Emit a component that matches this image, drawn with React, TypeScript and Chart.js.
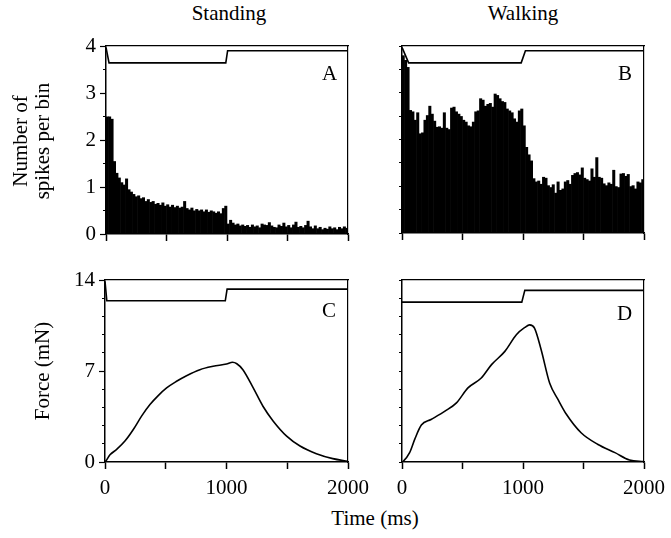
import React, { useEffect, useRef } from 'react';
import { Chart, registerables } from 'chart.js';

Chart.register(...registerables);

const FONT = '"Liberation Serif", "Times New Roman", Times, "DejaVu Serif", "Noto Serif", serif';
const FONT_SIZE = 21;

// ---------- data ----------
const BIN_MS = 20;

const spikesStanding = [
  2.5, 2.5, 2.45, 1.55, 1.3, 1.2, 1.1, 1.05, 1.18, 0.95,
  0.9, 0.85, 0.8, 0.82, 0.76, 0.78, 0.7, 0.74, 0.68, 0.7,
  0.64, 0.66, 0.62, 0.67, 0.6, 0.63, 0.58, 0.62, 0.57, 0.6,
  0.56, 0.58, 0.7, 0.55, 0.52, 0.56, 0.5, 0.53, 0.5, 0.52,
  0.48, 0.52, 0.47, 0.5, 0.48, 0.45, 0.48, 0.44, 0.55, 0.6,
  0.22, 0.3, 0.24, 0.2, 0.22, 0.18, 0.2, 0.17, 0.19, 0.15,
  0.2, 0.16, 0.18, 0.14, 0.22, 0.2, 0.19, 0.25, 0.18, 0.15,
  0.14, 0.2, 0.17, 0.24, 0.16, 0.19, 0.14, 0.2, 0.26, 0.15,
  0.17, 0.14, 0.19, 0.28, 0.16, 0.12, 0.18, 0.12, 0.15, 0.1,
  0.13, 0.11, 0.16, 0.12, 0.14, 0.1, 0.15, 0.12, 0.16, 0.13,
];

const spikesWalking = [
  3.8, 3.7, 3.55, 2.63, 2.6, 2.42, 2.58, 2.13, 2.15, 2.42,
  2.52, 2.72, 2.55, 2.4, 2.27, 2.28, 2.25, 2.58, 2.25, 2.22,
  2.68, 2.7, 2.6, 2.55, 2.5, 2.42, 2.38, 2.3, 2.28, 2.38,
  2.6, 2.62, 2.88, 2.85, 2.72, 2.76, 2.78, 2.7, 2.98, 2.95,
  2.88, 2.82, 2.8, 2.66, 2.62, 2.58, 2.45, 2.38, 2.62, 2.66,
  2.3, 1.84, 1.68, 1.55, 1.17, 1.1, 1.12, 1.05, 1.2, 1.18,
  1.02, 0.98, 1.04, 0.86, 1.1, 0.92, 0.95, 1.1, 1.13, 1.05,
  1.24, 1.28, 1.3, 1.25, 1.4, 1.18, 1.15, 1.12, 1.38, 1.2,
  1.62, 1.2, 1.18, 1.06, 1.02, 1.08, 1.05, 1.35, 1.0, 0.98,
  1.27, 1.28, 1.22, 1.26, 1.0, 1.02, 0.95, 1.1, 1.08, 1.15,
];

const forceTimeStanding = [0, 10, 41, 96, 164, 233, 301, 370, 438, 507, 589, 671, 781, 890, 1000, 1050, 1085, 1135, 1220, 1300, 1385, 1495, 1605, 1740, 1875, 2000];
const forceStanding = [0, 0.12, 0.55, 0.97, 1.61, 2.5, 3.53, 4.42, 5.11, 5.7, 6.21, 6.64, 7.1, 7.36, 7.54, 7.67, 7.56, 7.1, 5.7, 4.29, 3.14, 1.99, 1.23, 0.64, 0.26, 0.05];

const forceTimeWalking = [0, 10, 63, 105, 160, 240, 355, 450, 545, 655, 740, 850, 945, 1015, 1055, 1095, 1150, 1220, 1290, 1360, 1480, 1620, 1760, 1880, 2000];
const forceWalking = [0, 0.05, 0.72, 1.74, 2.84, 3.27, 3.91, 4.55, 5.7, 6.46, 7.49, 8.51, 9.79, 10.35, 10.55, 10.3, 8.64, 6.08, 4.8, 3.65, 2.25, 1.35, 0.72, 0.15, 0.03];

// stimulus (position) traces at the top of each panel
const stimTimeA = [0, 25, 990, 1005, 2000];
const stimA = [3.97, 3.64, 3.64, 3.9, 3.9];
const stimTimeB = [0, 55, 985, 1020, 2000];
const stimB = [3.97, 3.64, 3.64, 3.9, 3.9];
const stimTimeC = [0, 15, 990, 1005, 2000];
const stimC = [13.9, 12.4, 12.4, 13.3, 13.3];
const stimTimeD = [0, 990, 1015, 2000];
const stimD = [12.3, 12.3, 13.2, 13.2];

const xTicks = [0, 500, 1000, 1500, 2000];
const xTickLabels = [0, 1000, 2000];
const spikeTicks = [0, 0.5, 1, 1.5, 2, 2.5, 3, 3.5, 4];
const spikeTickLabels = [0, 1, 2, 3, 4];
const forceTicks = [0, 1.4, 2.8, 4.2, 5.6, 7, 8.4, 9.8, 11.2, 12.6, 14];
const forceTickLabels = [0, 7, 14];

// ---------- helpers ----------
const toXY = (xs: number[], ys: number[]) => xs.map((x, i) => ({ x, y: ys[i] }));
const binsToXY = (vals: number[]) => vals.map((v, i) => ({ x: i * BIN_MS + BIN_MS / 2, y: v }));
const has = (list: number[], v: number) => list.some((l) => Math.abs(l - v) < 1e-6);

type Box = { l: number; t: number; w: number; h: number };
type Area = { l: number; t: number; r: number; b: number };

function Panel(props: {
  box: Box;
  area: Area;
  yMax: number;
  yTicks: number[];
  yLabels: number[];
  showXLabels: boolean;
  datasets: any[];
}) {
  const ref = useRef<HTMLCanvasElement>(null);
  const { box, area, yMax, yTicks, yLabels, showXLabels, datasets } = props;

  useEffect(() => {
    if (!ref.current) return;
    const yW = area.l - box.l;
    const padT = area.t - box.t;
    const padR = box.l + box.w - area.r;
    const xH = box.t + box.h - area.b;
    const font = { family: FONT, size: FONT_SIZE };
    const border = { display: true, color: '#000', width: 1.5 };

    const chart = new Chart(ref.current, {
      type: 'bar',
      data: { datasets },
      options: {
        responsive: false,
        animation: false,
        devicePixelRatio: 1,
        layout: { padding: { left: 0, top: padT, right: padR, bottom: 0 } },
        plugins: { legend: { display: false }, tooltip: { enabled: false } },
        scales: {
          x: {
            type: 'linear',
            position: 'bottom',
            min: 0,
            max: 2000,
            offset: false,
            afterBuildTicks: (s: any) => {
              s.ticks = xTicks.map((v) => ({ value: v }));
            },
            afterFit: (s: any) => {
              s.height = xH;
              s.paddingLeft = 0;
              s.paddingRight = 0;
            },
            border,
            grid: {
              display: true,
              offset: false,
              drawOnChartArea: false,
              drawTicks: true,
              tickLength: 7,
              color: '#000',
              tickColor: '#000',
              tickWidth: 1.5,
            },
            ticks: {
              autoSkip: false,
              maxRotation: 0,
              minRotation: 0,
              padding: 7,
              color: '#000',
              font,
              callback: (v: any) => (showXLabels && has(xTickLabels, Number(v)) ? String(v) : ''),
            },
          },
          x2: {
            type: 'linear',
            position: 'top',
            min: 0,
            max: 2000,
            offset: false,
            border: { ...border, width: 1.2 },
            grid: { display: false, offset: false },
            ticks: { display: false },
            afterFit: (s: any) => {
              s.height = 0;
              s.paddingLeft = 0;
              s.paddingRight = 0;
            },
          },
          y: {
            type: 'linear',
            position: 'left',
            min: 0,
            max: yMax,
            afterBuildTicks: (s: any) => {
              s.ticks = yTicks.map((v) => ({ value: v }));
            },
            afterFit: (s: any) => {
              s.width = yW;
              s.paddingTop = 0;
              s.paddingBottom = 0;
            },
            border,
            grid: {
              display: true,
              drawOnChartArea: false,
              drawTicks: true,
              tickLength: 6,
              color: '#000',
              tickColor: '#000',
              tickWidth: 1.2,
              tickBorderDash: (ctx: any) => (ctx.tick && has(yLabels, ctx.tick.value) ? [] : [0, 3, 3, 100]),
            },
            ticks: {
              autoSkip: false,
              padding: 4,
              color: '#000',
              font,
              callback: (v: any) => (has(yLabels, Number(v)) ? String(v) : ''),
            },
          },
          y2: {
            type: 'linear',
            position: 'right',
            min: 0,
            max: yMax,
            border: { ...border, width: 1.2 },
            grid: { display: false },
            ticks: { display: false },
            afterFit: (s: any) => {
              s.width = 0;
              s.paddingTop = 0;
              s.paddingBottom = 0;
            },
          },
        },
      } as any,
    });
    return () => chart.destroy();
  }, []);

  return (
    <canvas
      ref={ref}
      width={box.w}
      height={box.h}
      style={{ position: 'absolute', left: box.l, top: box.t, width: box.w, height: box.h }}
    />
  );
}

const histDataset = (vals: number[]) => ({
  type: 'bar',
  data: binsToXY(vals),
  backgroundColor: '#000',
  borderWidth: 0,
  barPercentage: 1.25,
  categoryPercentage: 1,
  grouped: false,
  order: 2,
});

const lineDataset = (xs: number[], ys: number[], smooth: boolean) => ({
  type: 'line',
  data: toXY(xs, ys),
  borderColor: '#000',
  borderWidth: 1.6,
  pointRadius: 0,
  fill: false,
  tension: smooth ? 0.4 : 0,
  cubicInterpolationMode: smooth ? 'monotone' : 'default',
  order: 1,
});

const textStyle: React.CSSProperties = {
  position: 'absolute',
  fontFamily: FONT,
  fontSize: FONT_SIZE,
  lineHeight: `${FONT_SIZE}px`,
  color: '#000',
  whiteSpace: 'nowrap',
};

export default function App() {
  return (
    <div style={{ position: 'absolute', left: 0, top: 0, width: 671, height: 538, background: '#fff', overflow: 'hidden' }}>
      <Panel
        box={{ l: 0, t: 30, w: 370, h: 226 }}
        area={{ l: 106, t: 46, r: 348, b: 234 }}
        yMax={4}
        yTicks={spikeTicks}
        yLabels={spikeTickLabels}
        showXLabels={false}
        datasets={[histDataset(spikesStanding), lineDataset(stimTimeA, stimA, false)]}
      />
      <Panel
        box={{ l: 370, t: 30, w: 301, h: 226 }}
        area={{ l: 402, t: 46, r: 644, b: 233 }}
        yMax={4}
        yTicks={spikeTicks}
        yLabels={[]}
        showXLabels={false}
        datasets={[histDataset(spikesWalking), lineDataset(stimTimeB, stimB, false)]}
      />
      <Panel
        box={{ l: 0, t: 266, w: 380, h: 240 }}
        area={{ l: 105, t: 280, r: 348, b: 462 }}
        yMax={14}
        yTicks={forceTicks}
        yLabels={forceTickLabels}
        showXLabels={true}
        datasets={[lineDataset(forceTimeStanding, forceStanding, true), lineDataset(stimTimeC, stimC, false)]}
      />
      <Panel
        box={{ l: 380, t: 266, w: 291, h: 240 }}
        area={{ l: 402, t: 280, r: 644, b: 462 }}
        yMax={14}
        yTicks={forceTicks}
        yLabels={[]}
        showXLabels={true}
        datasets={[lineDataset(forceTimeWalking, forceWalking, true), lineDataset(stimTimeD, stimD, false)]}
      />

      <div style={{ ...textStyle, left: 229 - 60, width: 120, top: 3, textAlign: 'center' }}>Standing</div>
      <div style={{ ...textStyle, left: 523 - 60, width: 120, top: 3, textAlign: 'center' }}>Walking</div>
      <div style={{ ...textStyle, left: 375 - 80, width: 160, top: 508, textAlign: 'center' }}>Time (ms)</div>

      <div
        style={{
          ...textStyle,
          left: 31 - 75,
          top: 141 - 22,
          width: 150,
          height: 44,
          lineHeight: '22px',
          textAlign: 'center',
          transform: 'rotate(-90deg)',
          transformOrigin: '50% 50%',
        }}
      >
        <div>Number of</div>
        <div>spikes per bin</div>
      </div>
      <div
        style={{
          ...textStyle,
          left: 42 - 70,
          top: 371 - 11,
          width: 140,
          height: 22,
          lineHeight: '22px',
          textAlign: 'center',
          transform: 'rotate(-90deg)',
          transformOrigin: '50% 50%',
        }}
      >
        Force (mN)
      </div>

      <div style={{ ...textStyle, left: 322, top: 63 }}>A</div>
      <div style={{ ...textStyle, left: 618, top: 63 }}>B</div>
      <div style={{ ...textStyle, left: 322, top: 300 }}>C</div>
      <div style={{ ...textStyle, left: 617, top: 303 }}>D</div>
    </div>
  );
}
